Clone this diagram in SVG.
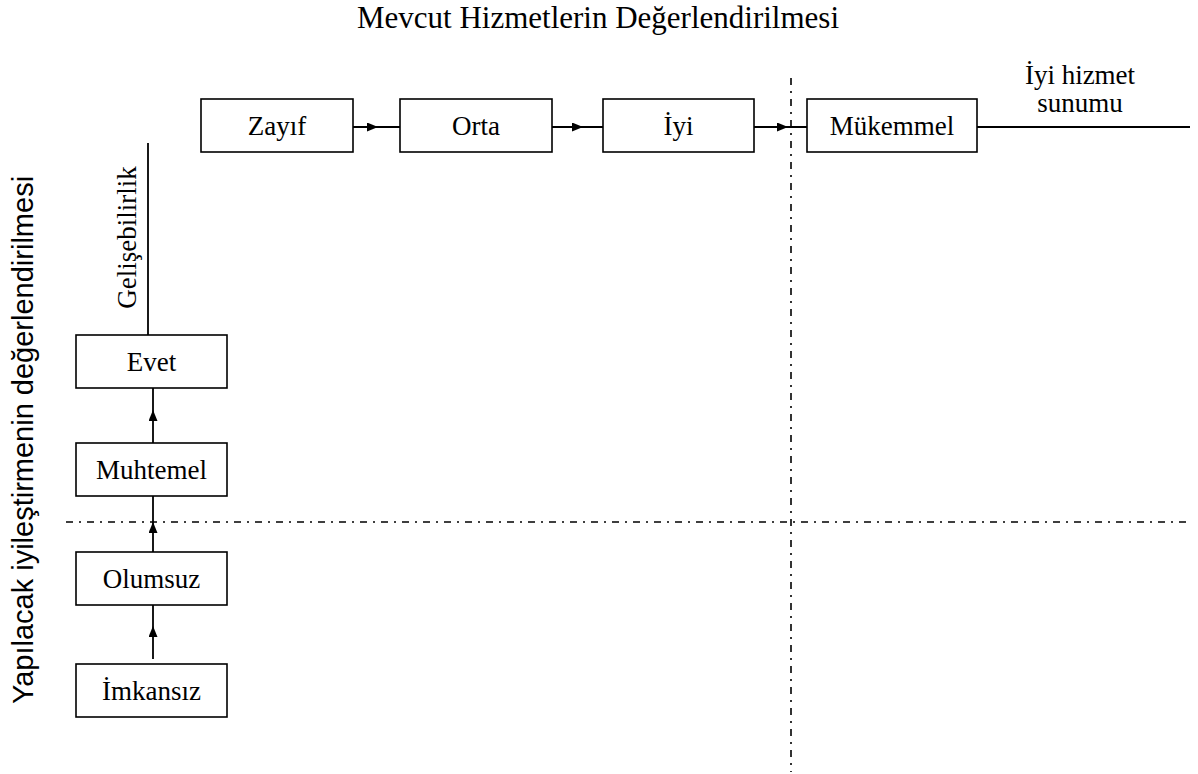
<svg xmlns="http://www.w3.org/2000/svg" width="1198" height="774" viewBox="0 0 1198 774">
<style>
.box{fill:#fff;stroke:#000;stroke-width:1.6}
.lbl{font-family:"Liberation Serif","Times New Roman",serif;font-size:27px;fill:#000;text-anchor:middle}
.ln{fill:none;stroke:#000;stroke-width:1.8}
.dd{fill:none;stroke:#000;stroke-width:1.6;stroke-dasharray:7 6 2 6}
</style>
<defs>
<marker id="ah" markerUnits="userSpaceOnUse" markerWidth="14" markerHeight="12" refX="11" refY="4.5" orient="auto">
<path d="M0,0 L11,4.5 L0,9 z" fill="#000"/>
</marker>
</defs>
<rect width="1198" height="774" fill="#fff"/>
<text class="lbl" x="598" y="28" style="font-size:31px">Mevcut Hizmetlerin Değerlendirilmesi</text>
<text x="33" y="440" transform="rotate(-90 33 440)" style="font-family:'Liberation Sans',Arial,sans-serif;font-size:29px;text-anchor:middle">Yapılacak iyileştirmenin değerlendirilmesi</text>
<text class="lbl" transform="translate(136 237.5) rotate(-90)" x="0" y="0">Gelişebilirlik</text>
<text class="lbl" x="1080" y="84">İyi hizmet</text>
<text class="lbl" x="1080" y="112">sunumu</text>
<g id="connectors">
<path class="dd" d="M791,78 L791,772"/>
<path class="dd" d="M66,522 L1192,522"/>
<path class="ln" d="M353,127 L378,127 L400,127" marker-mid="url(#ah)"/>
<path class="ln" d="M552,127 L583,127 L603,127" marker-mid="url(#ah)"/>
<path class="ln" d="M754,127 L788,127 L807,127" marker-mid="url(#ah)"/>
<path class="ln" d="M977,127 L1190,127"/>
<path class="ln" d="M148,143 L148,335"/>
<path class="ln" d="M153,443 L153,410 L153,387" marker-mid="url(#ah)"/>
<path class="ln" d="M153,552 L153,522 L153,495" marker-mid="url(#ah)"/>
<path class="ln" d="M153,659 L153,626 L153,605" marker-mid="url(#ah)"/>
</g>
<g id="zayif"><rect class="box" x="201" y="99" width="152" height="53"/><text class="lbl" x="277" y="135">Zayıf</text></g>
<g id="orta"><rect class="box" x="400" y="99" width="152" height="53"/><text class="lbl" x="476" y="135">Orta</text></g>
<g id="iyi"><rect class="box" x="603" y="99" width="151" height="53"/><text class="lbl" x="678.5" y="135">İyi</text></g>
<g id="mukemmel"><rect class="box" x="807" y="99" width="170" height="53"/><text class="lbl" x="892" y="135">Mükemmel</text></g>
<g id="evet"><rect class="box" x="76" y="335" width="151" height="53"/><text class="lbl" x="151.5" y="371">Evet</text></g>
<g id="muhtemel"><rect class="box" x="76" y="443" width="151" height="53"/><text class="lbl" x="151.5" y="479">Muhtemel</text></g>
<g id="olumsuz"><rect class="box" x="76" y="552" width="151" height="53"/><text class="lbl" x="151.5" y="588">Olumsuz</text></g>
<g id="imkansiz"><rect class="box" x="76" y="664" width="151" height="53"/><text class="lbl" x="151.5" y="700">İmkansız</text></g>
</svg>
